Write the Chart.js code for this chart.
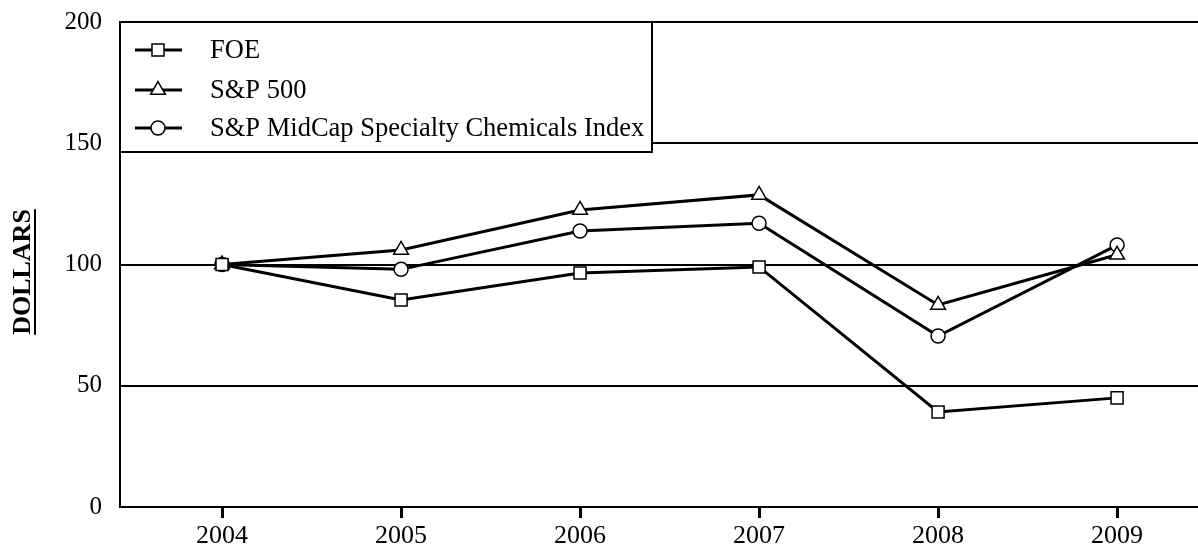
<!DOCTYPE html>
<html>
<head>
<meta charset="utf-8">
<script src="https://cdn.jsdelivr.net/npm/chart.js@4.4.1/dist/chart.umd.min.js"></script>
<style>
  html, body { margin: 0; padding: 0; background: #fff; }
  #chart { display: block; }
</style>
</head>
<body>
<canvas id="chart" width="1198" height="550"></canvas>
<script>
  // years on the x axis
  const years = [2004, 2005, 2006, 2007, 2008, 2009];
  const foe = [100, 85.4, 96.5, 99, 39.2, 45];
  const sp500 = [100, 106, 122.5, 128.7, 83.3, 104];
  const midcapChem = [100, 98, 113.8, 117, 70.5, 108];
  const yTicks = [0, 50, 100, 150, 200];

  const serif = '"Liberation Serif", "Times New Roman", serif';

  function pts(values) {
    return years.map((yr, i) => ({ x: yr, y: values[i] }));
  }

  function series(label, values, style, radius) {
    return {
      label: label,
      data: pts(values),
      borderColor: '#000',
      borderWidth: 3,
      pointStyle: style,
      pointRadius: radius,
      pointBackgroundColor: '#fff',
      pointBorderColor: '#000',
      pointBorderWidth: 1.5,
      tension: 0,
      fill: false
    };
  }

  // legend box sits inside the plot, top left, over the gridlines
  const boxLegend = {
    id: 'boxLegend',
    afterDraw(chart) {
      const ctx = chart.ctx;
      const area = chart.chartArea;
      ctx.save();
      ctx.fillStyle = '#fff';
      ctx.strokeStyle = '#000';
      ctx.lineWidth = 2;
      ctx.fillRect(area.left, area.top, 532, 130);
      ctx.strokeRect(area.left, area.top, 532, 130);

      const rowY = [50, 90, 128];
      chart.data.datasets.forEach((ds, i) => {
        const y = rowY[i];
        ctx.beginPath();
        ctx.strokeStyle = '#000';
        ctx.lineWidth = 3;
        ctx.moveTo(135, y);
        ctx.lineTo(182, y);
        ctx.stroke();
        ctx.fillStyle = '#fff';
        ctx.strokeStyle = '#000';
        ctx.lineWidth = 1.5;
        Chart.helpers.drawPoint(ctx, {
          pointStyle: ds.pointStyle,
          radius: ds.pointRadius,
          borderWidth: 1.5
        }, 158, y);
        ctx.fillStyle = '#000';
        ctx.font = '26.5px ' + serif;
        ctx.textAlign = 'left';
        ctx.textBaseline = 'middle';
        ctx.fillText(ds.label, 210, y + 1);
      });

      // y axis title, bold and underlined
      ctx.translate(23, 272);
      ctx.rotate(-Math.PI / 2);
      ctx.font = 'bold 26px ' + serif;
      ctx.textAlign = 'center';
      ctx.textBaseline = 'middle';
      ctx.fillStyle = '#000';
      ctx.fillText('DOLLARS', 0, 0);
      const w = ctx.measureText('DOLLARS').width;
      ctx.fillRect(-w / 2, 11, w, 2);
      ctx.restore();
    }
  };

  new Chart(document.getElementById('chart'), {
    type: 'line',
    data: {
      datasets: [
        series('FOE', foe, 'rect', 8.5),
        series('S&P 500', sp500, 'triangle', 8.5),
        series('S&P MidCap Specialty Chemicals Index', midcapChem, 'circle', 7)
      ]
    },
    options: {
      responsive: false,
      animation: false,
      layout: { autoPadding: false, padding: { top: 22, left: 0, right: 0, bottom: 0 } },
      plugins: {
        legend: { display: false },
        tooltip: { enabled: false }
      },
      scales: {
        x: {
          type: 'linear',
          min: 2003.43,
          max: 2009.452,
          afterFit: s => { s.height = 43; s.paddingLeft = 0; s.paddingRight = 0; },
          afterBuildTicks: s => { s.ticks = years.map(v => ({ value: v })); },
          ticks: {
            stepSize: 1,
            includeBounds: false,
            padding: 3,
            color: '#000',
            font: { family: serif, size: 26 },
            callback: v => String(v)
          },
          grid: {
            display: true,
            drawOnChartArea: false,
            tickLength: 11,
            lineWidth: 3,
            color: '#000'
          },
          border: { display: true, color: '#000', width: 2 }
        },
        y: {
          min: 0,
          max: 200,
          afterFit: s => { s.width = 120; s.paddingTop = 0; s.paddingBottom = 0; },
          afterBuildTicks: s => { s.ticks = yTicks.map(v => ({ value: v })); },
          ticks: {
            padding: 18,
            color: '#000',
            font: { family: serif, size: 25 }
          },
          grid: {
            drawTicks: false,
            lineWidth: 2,
            color: '#000'
          },
          border: { display: true, color: '#000', width: 2 }
        }
      }
    },
    plugins: [boxLegend]
  });
</script>
</body>
</html>
